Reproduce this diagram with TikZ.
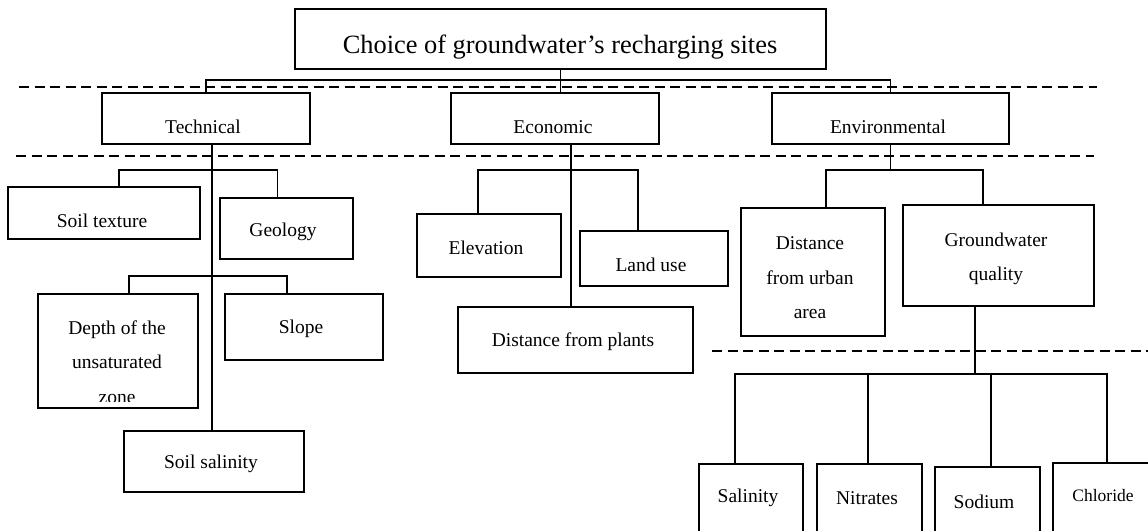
\documentclass[tikz,border=0pt]{standalone}
\usepackage{fontspec}
\setmainfont{Liberation Serif}
\usetikzlibrary{fit}
\begin{document}
\begin{tikzpicture}[x=1pt,y=-1pt,
 box/.style={draw, line width=1.6pt, inner sep=0pt, outer sep=0pt},
 lbl/.style={inner sep=0pt, align=center, font=\fontsize{19.5}{34.5}\selectfont},
 conn/.style={line width=1.7pt},
 sep/.style={line width=2.4pt, dash pattern=on 10pt off 5.5pt}]
\useasboundingbox (0,0) rectangle (1148,530);
\clip (0,0) rectangle (1148,530);
\fill[white] (0,0) rectangle (1148,530);
% boxes
\node[box, fit={(295,9) (826,69)}] (title) {};
\node[box, fit={(102,93) (310,144)}] (tech) {};
\node[box, fit={(451,93) (659,144)}] (econ) {};
\node[box, fit={(772,93) (1009,144)}] (env) {};
\node[box, fit={(8,187) (200,239)}] (stext) {};
\node[box, fit={(220,198) (353,259)}] (geo) {};
\node[box, fit={(38,294) (198,408)}] (depth) {};
\node[box, fit={(225,294) (383,360)}] (slope) {};
\node[box, fit={(124,431) (304,492)}] (ssal) {};
\node[box, fit={(417,214) (561,277)}] (elev) {};
\node[box, fit={(580,231) (728,286)}] (land) {};
\node[box, fit={(458,307) (693,373)}] (dplants) {};
\node[box, fit={(741,208) (885,336)}] (durban) {};
\node[box, fit={(903,205) (1094,306)}] (gq) {};
\node[box, fit={(699,464) (803,560)}] (sal) {};
\node[box, fit={(817,464) (922,560)}] (nit) {};
\node[box, fit={(935,467) (1040,560)}] (sod) {};
\node[box, fit={(1053,463) (1170,560)}] (chl) {};
% labels
\node[lbl, font=\fontsize{26.4}{30}\selectfont] (ttitle) at (560,47) {Choice of groundwater’s recharging sites};
\node[lbl] (ttech) at (203,127) {Technical};
\node[lbl] (tecon) at (553,127) {Economic};
\node[lbl] (tenv) at (888,127) {Environmental};
\node[lbl] (tstext) at (102,221) {Soil texture};
\node[lbl] (tgeo) at (283,232) {Geology};
\begin{scope}
\clip (38,294) rectangle (198,401.5);
\node[lbl] (tdepth) at (117,362) {Depth of the\\unsaturated\\zone};
\end{scope}
\node[lbl] (tslope) at (301,329) {Slope};
\node[lbl] (tssal) at (211,464) {Soil salinity};
\node[lbl] (telev) at (486,248) {Elevation};
\node[lbl] (tland) at (651,265) {Land use};
\node[lbl] (tdplants) at (573,342) {Distance from plants};
\node[lbl] (tdurban) at (810,278) {Distance\\from urban\\area};
\node[lbl] (tgq) at (996,259) {Groundwater\\quality};
\node[lbl] (tsal) at (748,498) {Salinity};
\node[lbl] (tnit) at (867,498) {Nitrates};
\node[lbl] (tsod) at (984,502) {Sodium};
\node[lbl, font=\fontsize{17.5}{20}\selectfont] (tchl) at (1103,496) {Chloride};
% connectors
\coordinate (j0) at (561,80);
\draw[conn] (title.south) -- (title.south |- econ.north);
\draw[conn] (tech.north) |- (j0) -| (env.north);
\draw[conn] ([xshift=6pt]tech.south) -- ([xshift=6pt]tech.south |- ssal.north);
\draw[conn] ([xshift=15pt]stext.north) -- ++(0,-17) -| ([xshift=-9pt]geo.north);
\draw[conn] ([xshift=11pt]depth.north) -- ++(0,-18) -| ([xshift=-17pt]slope.north);
\draw[conn] ([xshift=16pt]econ.south) -- ([xshift=16pt]econ.south |- dplants.north);
\draw[conn] ([xshift=-11pt]elev.north) -- ++(0,-44) -| ([xshift=-16pt]land.north);
\draw[conn] (env.south) -- ++(0,26) coordinate (j1);
\draw[conn] ([xshift=13pt]durban.north) |- (j1) -| ([xshift=-15.5pt]gq.north);
\draw[conn] ([xshift=-23.5pt]gq.south) -- ++(0,68) coordinate (j2);
\draw[conn] ([xshift=-16pt]sal.north) |- (j2) -| ([xshift=-4.5pt]chl.north);
\draw[conn] ([xshift=-1.5pt]nit.north) -- ([xshift=-1.5pt]nit.north |- j2);
\draw[conn] ([xshift=3.5pt]sod.north) -- ([xshift=3.5pt]sod.north |- j2);
% separators
\draw[sep] (19,87) -- (1097,87);
\draw[sep] (16,156) -- (1094,156);
\draw[sep] (712,351) -- (1148,351);
\end{tikzpicture}
\end{document}
